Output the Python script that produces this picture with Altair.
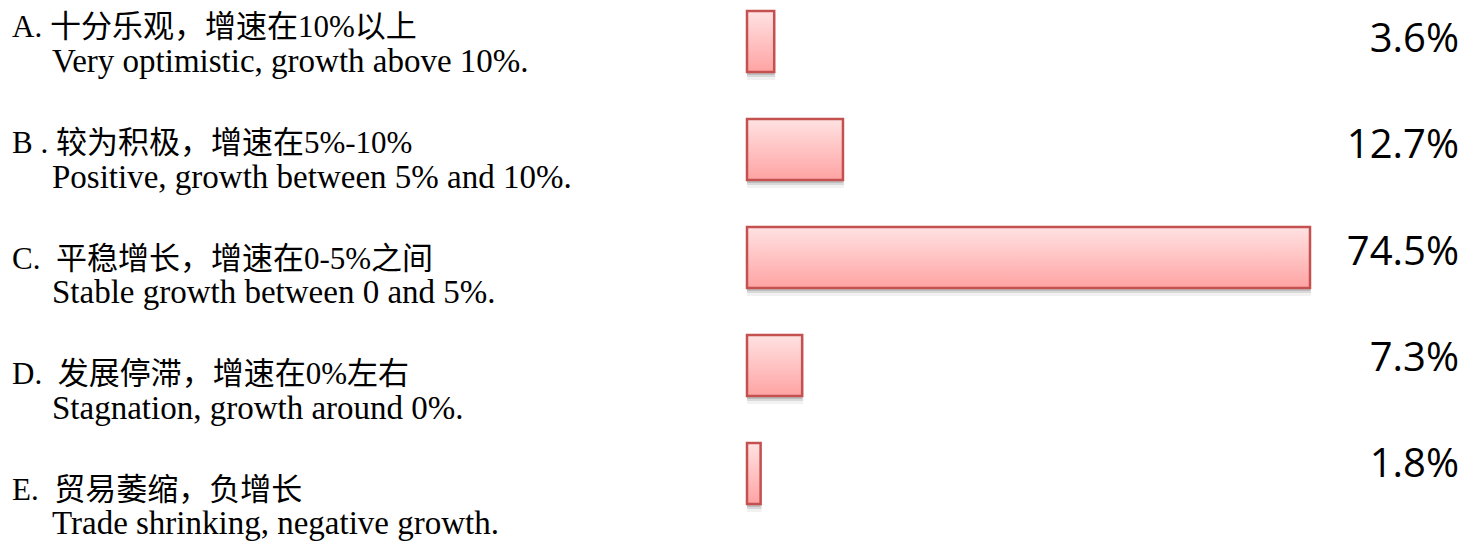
import altair as alt
import pandas as pd

# ---- data ----
letters = ["A", "B", "C", "D", "E"]
cn_lines = [
    "A. 十分乐观，增速在10%以上",
    "B . 较为积极，增速在5%-10%",
    "C.\u00a0 平稳增长，增速在0-5%之间",
    "D.\u00a0 发展停滞，增速在0%左右",
    "E.\u00a0 贸易萎缩，负增长",
]
en_lines = [
    "Very optimistic, growth above 10%.",
    "Positive, growth between 5% and 10%.",
    "Stable growth between 0 and 5%.",
    "Stagnation, growth around 0%.",
    "Trade shrinking, negative growth.",
]
values = [3.6, 12.7, 74.5, 7.3, 1.8]
pct_labels = [f"{v:.1f}%" for v in values]

df = pd.DataFrame({
    "idx": list(range(len(letters))),
    "letter": letters,
    "cn": cn_lines,
    "en": en_lines,
    "value": values,
    "pct": pct_labels,
})

W, H = 1450, 534
BAR_H = 61

x_scale = alt.Scale(domain=[0, 74.5], range=[739, 1302], nice=False, zero=True)


def yq(rng):
    return alt.Y("idx:Q", scale=alt.Scale(domain=[0, 4], range=rng, nice=False, zero=False), axis=None)


base = alt.Chart(df)

grad = alt.Gradient(
    gradient="linear",
    stops=[alt.GradientStop(color="#FFE2E2", offset=0), alt.GradientStop(color="#FFA3A3", offset=1)],
    x1=0, x2=0, y1=0, y2=1,
)

bar_y = yq([28.5, 470.5])
bx = alt.X("value:Q", scale=x_scale, axis=None)

shadow1 = base.mark_bar(orient="horizontal", size=BAR_H + 6, fill="#000000", opacity=0.05, xOffset=1, yOffset=5).encode(
    x=bx, x2=alt.datum(0), y=bar_y)
shadow2 = base.mark_bar(orient="horizontal", size=BAR_H + 2, fill="#000000", opacity=0.10, xOffset=1, yOffset=4).encode(
    x=bx, x2=alt.datum(0), y=bar_y)
shadow3 = base.mark_bar(orient="horizontal", size=BAR_H, fill="#000000", opacity=0.12, xOffset=0, yOffset=3).encode(
    x=bx, x2=alt.datum(0), y=bar_y)
bars = base.mark_bar(orient="horizontal", size=BAR_H, fill=grad, stroke="#C4504F", strokeWidth=2.5).encode(
    x=bx, x2=alt.datum(0), y=bar_y)

left_font = "Liberation Serif, Noto Sans CJK SC"

cn_text = base.mark_text(align="left", baseline="alphabetic", font=left_font, fontSize=31, color="#000000").encode(
    x=alt.value(4), y=yq([29, 492]), text="cn:N")
en_text = base.mark_text(align="left", baseline="alphabetic", font=left_font, fontSize=33, color="#000000").encode(
    x=alt.value(44), y=yq([64, 526]), text="en:N")
pct_text = base.mark_text(align="right", baseline="alphabetic", font="Open Sans", fontSize=40, color="#000000").encode(
    x=alt.value(W + 1), y=yq([44, 469]), text="pct:N")

chart = alt.layer(shadow1, shadow2, shadow3, bars, cn_text, en_text, pct_text).resolve_scale(
    y="independent"
).properties(
    width=W, height=H, padding=0, autosize=alt.AutoSizeParams(type="none"), background="#FFFFFF"
).configure_view(stroke=None)

chart.save("out.html", embed_options={"renderer": "svg", "actions": False})
